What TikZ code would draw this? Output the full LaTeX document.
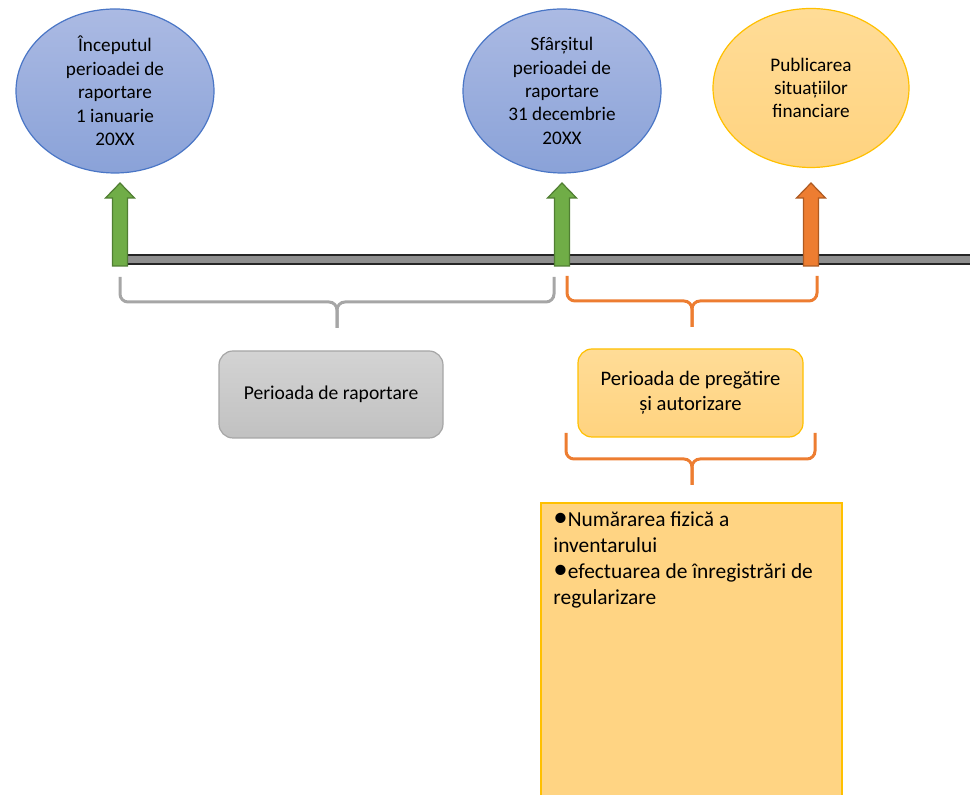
\documentclass[tikz,border=0pt]{standalone}
\usepackage{fontspec}
\setmainfont{Carlito}
\usetikzlibrary{shapes.geometric}

\definecolor{bluetop}{HTML}{ABBAE3}
\definecolor{bluebot}{HTML}{8AA2D8}
\definecolor{blueline}{HTML}{4A76C6}
\definecolor{goldtop}{HTML}{FFDC97}
\definecolor{goldbot}{HTML}{FFD37F}
\definecolor{goldline}{HTML}{FFC000}
\definecolor{arrowgreen}{HTML}{70AD47}
\definecolor{greenline}{HTML}{507E32}
\definecolor{arroworange}{HTML}{ED7D31}
\definecolor{orangeline}{HTML}{AE5A21}
\definecolor{bargray}{HTML}{8F8F8F}
\definecolor{barline}{HTML}{262626}
\definecolor{boxtop}{HTML}{D3D3D3}
\definecolor{boxbot}{HTML}{C1C1C1}
\definecolor{boxline}{HTML}{A6A6A6}

\newcommand{\bigdot}{\smash{\scalebox{1.35}{•}}}

\begin{document}
\begin{tikzpicture}[x=0.5pt,y=-0.5pt,
    event/.style={ellipse,draw=blueline,line width=0.6pt,top color=bluetop,bottom color=bluebot,
      minimum width=99pt,minimum height=82pt,inner sep=0pt,align=center,
      font=\fontsize{9.6}{11.7}\selectfont},
    pubevent/.style={event,draw=goldline,top color=goldtop,bottom color=goldbot,
      minimum width=98pt,minimum height=79.5pt},
    graybox/.style={rectangle,rounded corners=7pt,draw=boxline,line width=0.6pt,
      top color=boxtop,bottom color=boxbot,minimum width=112pt,minimum height=43.5pt,
      align=center,font=\fontsize{9.8}{12}\selectfont},
    goldbox/.style={graybox,draw=goldline,top color=goldtop,bottom color=goldbot,
      minimum width=112.5pt,minimum height=44pt,font=\fontsize{10.3}{12.5}\selectfont},
    notebox/.style={rectangle,draw=goldline,line width=0.8pt,fill=goldbot!85!goldtop,
      minimum width=150.5pt,minimum height=150pt,inner sep=0pt},
    graybrace/.style={draw=boxline,line width=1.5pt,rounded corners=4pt},
    orangebrace/.style={graybrace,draw=arroworange}]
  \useasboundingbox (0,0) rectangle (970,795);

  % events on the timeline
  \node[event] (start) at (115,91) {Începutul\\perioadei de\\raportare\\1 ianuarie\\20XX};
  \node[event] (end) at (562,91) {Sfârșitul\\perioadei de\\raportare\\31 decembrie\\20XX};
  \node[pubevent] (publish) at (811,88) {Publicarea\\situațiilor\\financiare};

  % timeline
  \draw[draw=barline,fill=bargray,line width=0.8pt] (120,255) rectangle (980,264);

  \foreach \x/\fc/\dc in {120/arrowgreen/greenline, 562/arrowgreen/greenline, 811/arroworange/orangeline}
    \draw[draw=\dc,fill=\fc,line width=0.6pt] (\x-7.5,266) -- (\x-7.5,198) -- (\x-14.5,198)
      -- (\x,183) -- (\x+14.5,198) -- (\x+7.5,198) -- (\x+7.5,266) -- cycle;

  % braces
  \draw[graybrace] (120,277) -- (120,302) -- (337,302) -- (337,328);
  \draw[graybrace] (554,277) -- (554,302) -- (337,302) -- (337,328);
  \draw[orangebrace] (567,276) -- (567,301) -- (692,301) -- (692,327);
  \draw[orangebrace] (817,276) -- (817,301) -- (692,301) -- (692,327);

  \node[graybox] (report) at (331,394.5) {Perioada de raportare};
  \node[goldbox] (prep) at (690.5,393) {Perioada de pregătire\\și autorizare};

  \draw[orangebrace] (566,433) -- (566,459) -- (692,459) -- (692,485);
  \draw[orangebrace] (815,433) -- (815,459) -- (692,459) -- (692,485);

  % activities
  \node[notebox,anchor=north west] (tasks) at (540,502) {};
  \node[anchor=north west,inner sep=0pt,align=left,font=\fontsize{10.7}{13}\selectfont]
    (tasklist) at (553,511) {\bigdot Numărarea fizică a\\inventarului\\\bigdot efectuarea de înregistrări de\\regularizare};
\end{tikzpicture}
\end{document}
